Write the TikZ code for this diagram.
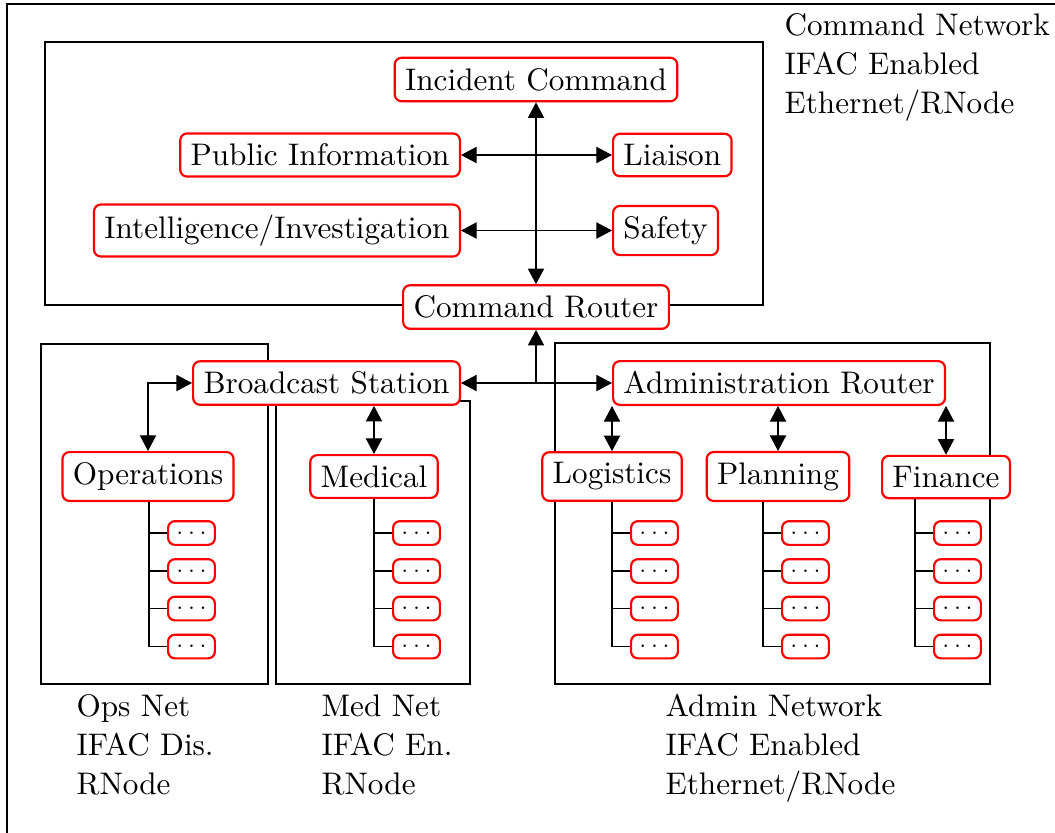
\documentclass[tikz,border=0pt]{standalone}
\usetikzlibrary{arrows.meta,calc}
\tikzset{
  unit/.style={draw=red, line width=0.7pt, rounded corners=2.2pt, fill=white, inner sep=3.33pt},
  leaf/.style={unit, inner sep=0pt, minimum width=15pt, minimum height=7.6pt, font=\scriptsize},
  tip/.tip={Triangle[length=5pt,width=5.2pt]},
  link/.style={tip-tip},
  netlabel/.style={align=left, inner sep=0pt, anchor=north west},
}
\begin{document}
\begin{tikzpicture}[x=0.3205pt,y=-0.3205pt,line width=0.36pt]
\useasboundingbox (0,0) rectangle (1055,832);
\clip (0,0) rectangle (1055,832);
% outer frame
\draw (7,4) rectangle (1100,880);
% network enclosures
\draw (45,42) rectangle (763,305);
\draw (41,344) rectangle (268,684);
\draw (276,401) rectangle (470,684);
\draw (555,343) rectangle (990,684);

% command staff
\node[unit] (ic) at (536,79.5) {Incident Command};
\node[unit,anchor=east] (pi) at (461,155) {Public Information};
\node[unit,anchor=west] (li) at (612,155) {Liaison};
\node[unit,anchor=east] (ii) at (461,230.5) {Intelligence/Investigation};
\node[unit,anchor=west] (sa) at (612,230.5) {Safety};
\node[unit] (cr) at (536,307) {Command Router};

% routers and sections
\node[unit,anchor=east] (bs) at (461,383) {Broadcast Station};
\node[unit,anchor=west] (ar) at (612,383) {Administration Router};
\node[unit] (ops) at (148,476.5) {Operations};
\node[unit] (med) at (374,476.5) {Medical};
\node[unit] (log) at (612,476.5) {Logistics};
\node[unit] (pla) at (778,476.5) {Planning};
\node[unit] (fin) at (946,477) {Finance};

% links
\draw[link] (ic) -- (cr);
\draw[link] (pi) -- (li);
\draw[link] (ii) -- (sa);
\coordinate (hub) at (cr.south |- bs.east);
\draw[-tip] (hub) -- (cr.south);
\draw[link] (bs) -- (ar);
\draw[link] (bs.west) -| (ops.north);
\draw[link] (med.north |- bs.south) -- (med.north);
\foreach \c in {log,pla,fin} \draw[link] (\c.north |- ar.south) -- (\c.north);

% sub-units under each section
\foreach \p/\tx in {ops/149,med/374,log/612,pla/763,fin/915}{
  \foreach \i/\yy in {1/533,2/571,3/608.5,4/646.5}{
    \node[leaf,anchor=west] (\p\i) at (\tx+18,\yy) {$\ldots$};
    \draw (\p\i.west) -- ++(-18,0);
  }
  \coordinate (\p T) at (\tx,646.5);
  \draw (\p.south -| \p T) -- (\p T);
}

% network descriptions
\node[netlabel] (cmdnet) at (784,12.5) {Command Network\\[0.5pt]IFAC Enabled\\[0.5pt]Ethernet/RNode};
\node[netlabel] (opsnet) at (76,694) {Ops Net\\[0.5pt]IFAC Dis.\\[0.5pt]RNode};
\node[netlabel] (mednet) at (321,694) {Med Net\\[0.5pt]IFAC En.\\[0.5pt]RNode};
\node[netlabel] (admnet) at (665,694) {Admin Network\\[0.5pt]IFAC Enabled\\[0.5pt]Ethernet/RNode};
\end{tikzpicture}
\end{document}
